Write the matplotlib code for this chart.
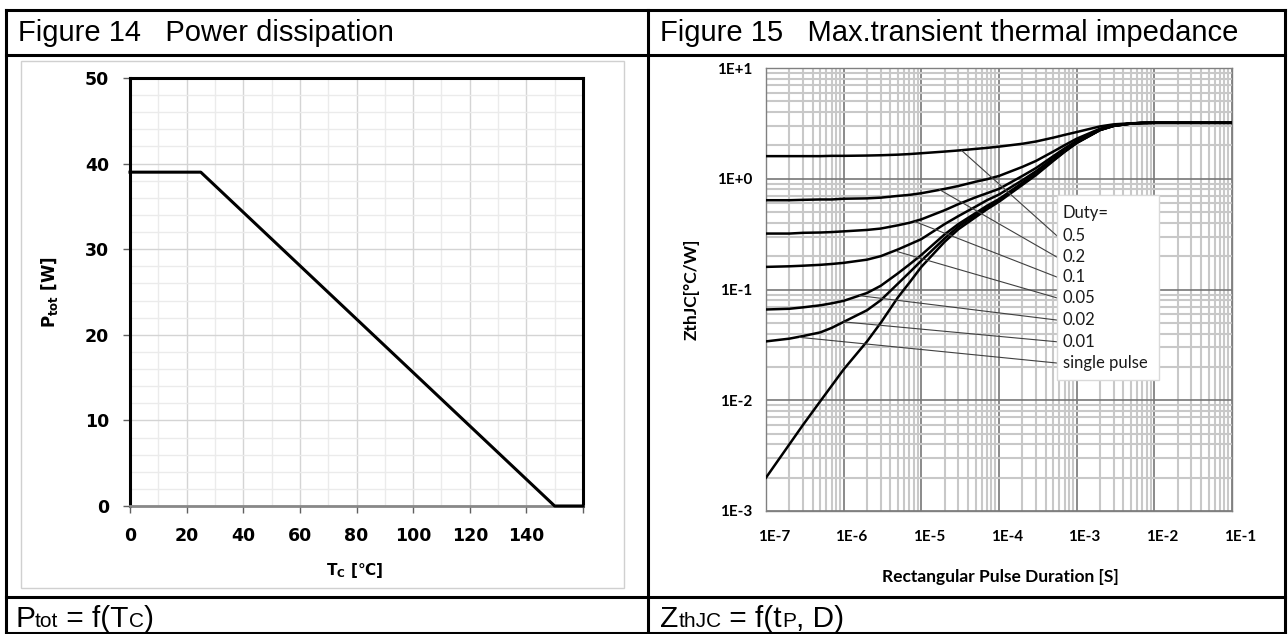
import matplotlib
matplotlib.use("Agg")
import matplotlib.pyplot as plt
from matplotlib.lines import Line2D
from matplotlib.patches import Rectangle
from matplotlib.ticker import LogLocator, NullFormatter, MultipleLocator
from matplotlib.transforms import ScaledTranslation

W, H = 1288, 634

# Figure 14 - power dissipation
tc = [0, 25, 150, 160]
p_tot = [39, 39, 0, 0]
tc_ticks = [0, 20, 40, 60, 80, 100, 120, 140, 160]
tc_labels = ["0", "20", "40", "60", "80", "100", "120", "140", ""]

# Figure 15 - transient thermal impedance
tp = [1e-7, 2e-7, 3e-7, 5e-7, 7e-7, 1e-6, 2e-6, 3e-6, 5e-6, 7e-6,
      1e-5, 2e-5, 3e-5, 5e-5, 7e-5, 1e-4, 2e-4, 3e-4, 5e-4, 7e-4,
      1e-3, 2e-3, 3e-3, 5e-3, 7e-3, 1e-2, 1e-1]
z_05 = [1.60, 1.60, 1.60, 1.60, 1.61, 1.61, 1.62, 1.63, 1.65, 1.67,
        1.70, 1.76, 1.80, 1.86, 1.90, 1.95, 2.07, 2.17, 2.35, 2.49,
        2.64, 2.97, 3.10, 3.17, 3.19, 3.2, 3.2]
z_02 = [0.64, 0.64, 0.645, 0.65, 0.65, 0.66, 0.665, 0.675, 0.70, 0.715,
        0.74, 0.81, 0.86, 0.94, 0.99, 1.06, 1.28, 1.45, 1.76, 2.01,
        2.30, 2.83, 3.03, 3.16, 3.19, 3.2, 3.2]
z_01 = [0.32, 0.32, 0.325, 0.327, 0.33, 0.335, 0.345, 0.355, 0.38, 0.40,
        0.43, 0.52, 0.59, 0.68, 0.74, 0.81, 1.06, 1.25, 1.60, 1.88,
        2.20, 2.79, 3.02, 3.155, 3.19, 3.2, 3.2]
z_005 = [0.16, 0.162, 0.164, 0.167, 0.17, 0.174, 0.186, 0.20, 0.23, 0.255,
         0.285, 0.39, 0.46, 0.56, 0.64, 0.72, 0.97, 1.17, 1.53, 1.82,
         2.15, 2.77, 3.01, 3.153, 3.19, 3.2, 3.2]
z_002 = [0.066, 0.067, 0.069, 0.072, 0.075, 0.079, 0.093, 0.108, 0.14, 0.168,
         0.205, 0.315, 0.39, 0.49, 0.57, 0.655, 0.92, 1.12, 1.48, 1.78,
         2.12, 2.76, 3.004, 3.151, 3.19, 3.2, 3.2]
z_001 = [0.034, 0.036, 0.038, 0.041, 0.045, 0.051, 0.065, 0.08, 0.113, 0.142,
         0.182, 0.29, 0.37, 0.47, 0.55, 0.635, 0.9, 1.1, 1.47, 1.765,
         2.11, 2.755, 3.002, 3.15, 3.19, 3.2, 3.2]
z_single = [0.002, 0.004, 0.006, 0.0098, 0.0135, 0.019, 0.034, 0.05, 0.085, 0.115,
            0.16, 0.27, 0.35, 0.45, 0.53, 0.62, 0.88, 1.08, 1.45, 1.75,
            2.1, 2.75, 3.0, 3.15, 3.19, 3.2, 3.2]

duty_labels = ["0.5", "0.2", "0.1", "0.05", "0.02", "0.01", "single pulse"]
# where each callout line touches its curve (t, Z)
callout_t = [3.3e-5, 1.7e-5, 8.3e-6, 4.9e-6, 1.6e-6, 1.0e-6, 2.7e-7]
callout_z = [1.80, 0.80, 0.41, 0.22, 0.088, 0.051, 0.037]

t_ticks = [1e-7, 1e-6, 1e-5, 1e-4, 1e-3, 1e-2, 1e-1]
t_labels = ["1E-7", "1E-6", "1E-5", "1E-4", "1E-3", "1E-2", "1E-1"]
z_ticks = [1e-3, 1e-2, 1e-1, 1e0, 1e1]
z_labels = ["1E-3", "1E-2", "1E-1", "1E+0", "1E+1"]


def fx(x):
    return x / W


def fy(y):
    return 1 - y / H


def rich(fig, x, y, parts):
    # parts of text on one baseline, (string, size)
    r = fig.canvas.get_renderer()
    pos = fx(x)
    for s, size in parts:
        t = fig.text(pos, fy(y), s, fontsize=size, family="Liberation Sans",
                     va="baseline", ha="left")
        pos += t.get_window_extent(r).width / W


fig = plt.figure(figsize=(W / 100, H / 100), dpi=100)

# table lines
for y in [10, 55, 597, 633]:
    fig.add_artist(Line2D([fx(6), fx(1285)], [fy(y), fy(y)], color="black", lw=2.2))
for x in [6, 648, 1285]:
    fig.add_artist(Line2D([fx(x), fx(x)], [fy(10), fy(633)], color="black", lw=2.2))
fig.add_artist(Rectangle((fx(21), fy(588)), fx(624) - fx(21), fy(61) - fy(588),
                         fill=False, edgecolor="#d0d0d0", lw=1))

fig.text(fx(18), fy(33), "Figure 14   Power dissipation", fontsize=21,
         family="Liberation Sans", va="center")
fig.text(fx(660), fy(33), "Figure 15   Max.transient thermal impedance", fontsize=21,
         family="Liberation Sans", va="center")

rich(fig, 15, 627, [("P", 21.5), ("tot", 15), (" = f(T", 21.5), ("C", 15), (")", 21.5)])
rich(fig, 660, 627, [("Z", 21.5), ("thJC", 15), (" = f(t", 21.5), ("P", 15), (", D)", 21.5)])

# ---- Figure 14 ----
ax1 = fig.add_axes([fx(130), fy(506), fx(583) - fx(130), fy(78) - fy(506)])
ax1.plot(tc, p_tot, color="black", lw=2.2, zorder=3, clip_on=False)
ax1.set_xlim(0, 160)
ax1.set_ylim(0, 50)
ax1.set_xticks(tc_ticks, tc_labels)
ax1.set_yticks([0, 10, 20, 30, 40, 50])
ax1.xaxis.set_minor_locator(MultipleLocator(10))
ax1.yaxis.set_minor_locator(MultipleLocator(2))
ax1.grid(which="major", color="#d4d4d4", lw=1)
ax1.grid(which="minor", color="#ebebeb", lw=1)
ax1.set_axisbelow(True)
for s in ["left", "top", "right"]:
    ax1.spines[s].set_linewidth(2.2)
    ax1.spines[s].set_color("black")
ax1.spines["bottom"].set_color("#888888")
ax1.spines["bottom"].set_linewidth(2)
ax1.tick_params(which="major", length=5, width=1, color="#606060", pad=10)
ax1.tick_params(which="minor", length=0)
for lbl in ax1.get_xticklabels() + ax1.get_yticklabels():
    lbl.set_fontweight("bold")
    lbl.set_fontsize(12.5)
ax1.set_ylabel(r"$\mathbf{P_{tot}}$ [W]", fontsize=12, fontweight="bold")
ax1.set_xlabel(r"$\mathbf{T_{C}}$ [°C]", fontsize=11, fontweight="bold")
ax1.yaxis.set_label_coords(-0.177, 0.5)
ax1.xaxis.set_label_coords(0.497, -0.15)
ax1.yaxis.label.set_va("center")
ax1.xaxis.label.set_va("center")

# ---- Figure 15 ----
ax2 = fig.add_axes([fx(766), fy(511), fx(1232) - fx(766), fy(68) - fy(511)])
for z in [z_05, z_02, z_01, z_005, z_002, z_001, z_single]:
    ax2.plot(tp, z, color="black", lw=1.8, zorder=3)
ax2.set_xscale("log")
ax2.set_yscale("log")
ax2.set_xlim(1e-7, 1e-1)
ax2.set_ylim(1e-3, 1e1)
ax2.set_xticks(t_ticks, t_labels)
ax2.set_yticks(z_ticks, z_labels)
ax2.xaxis.set_minor_locator(LogLocator(base=10, subs=range(2, 10), numticks=20))
ax2.yaxis.set_minor_locator(LogLocator(base=10, subs=range(2, 10), numticks=20))
ax2.xaxis.set_minor_formatter(NullFormatter())
ax2.yaxis.set_minor_formatter(NullFormatter())
ax2.grid(which="major", color="#777777", lw=1.2)
ax2.grid(which="minor", color="#c8c8c8", lw=1.5)
ax2.set_axisbelow(True)
for s in ax2.spines.values():
    s.set_color("#808080")
    s.set_linewidth(1)
ax2.tick_params(which="both", length=0)
ax2.tick_params(axis="x", pad=14)
ax2.tick_params(axis="y", pad=10)
shift = ScaledTranslation(8 / 100, 0, fig.dpi_scale_trans)
for lbl in ax2.get_xticklabels():
    lbl.set_transform(lbl.get_transform() + shift)
for lbl in ax2.get_xticklabels() + ax2.get_yticklabels():
    lbl.set_family("Lato")
    lbl.set_fontweight("bold")
    lbl.set_fontsize(11)
ax2.set_xlabel("Rectangular Pulse Duration [S]", fontsize=12.5, fontweight="bold", family="Lato")
ax2.set_ylabel("ZthJC[°C/W]", fontsize=12.5, fontweight="bold", family="Lato")
ax2.xaxis.set_label_coords(0.504, -0.149)
ax2.yaxis.set_label_coords(-0.159, 0.5)
ax2.xaxis.label.set_va("center")
ax2.yaxis.label.set_va("center")

# duty callout box
box_x, box_y0, box_y1, box_x1 = 0.6245, 0.296, 0.713, 0.843
ax2.add_patch(Rectangle((box_x, box_y0), box_x1 - box_x, box_y1 - box_y0,
                        transform=ax2.transAxes, facecolor="white",
                        edgecolor="#d9d9d9", lw=1, zorder=5))
row_y = [0.673, 0.621, 0.573, 0.528, 0.481, 0.431, 0.382, 0.334]
ax2.text(0.637, row_y[0], "Duty=", transform=ax2.transAxes, va="center",
         fontsize=12, family="Lato", color="#1a1a1a", zorder=6)
for lab, t, z, yy in zip(duty_labels, callout_t, callout_z, row_y[1:]):
    ax2.text(0.637, yy, lab, transform=ax2.transAxes, va="center",
             fontsize=12, family="Lato", color="#1a1a1a", zorder=6)
    ax2.annotate("", xy=(t, z), xycoords="data", xytext=(box_x, yy),
                 textcoords="axes fraction",
                 arrowprops=dict(arrowstyle="-", color="#404040", lw=0.8,
                                 shrinkA=0, shrinkB=0), zorder=4)

fig.savefig("out.png", dpi=100)
